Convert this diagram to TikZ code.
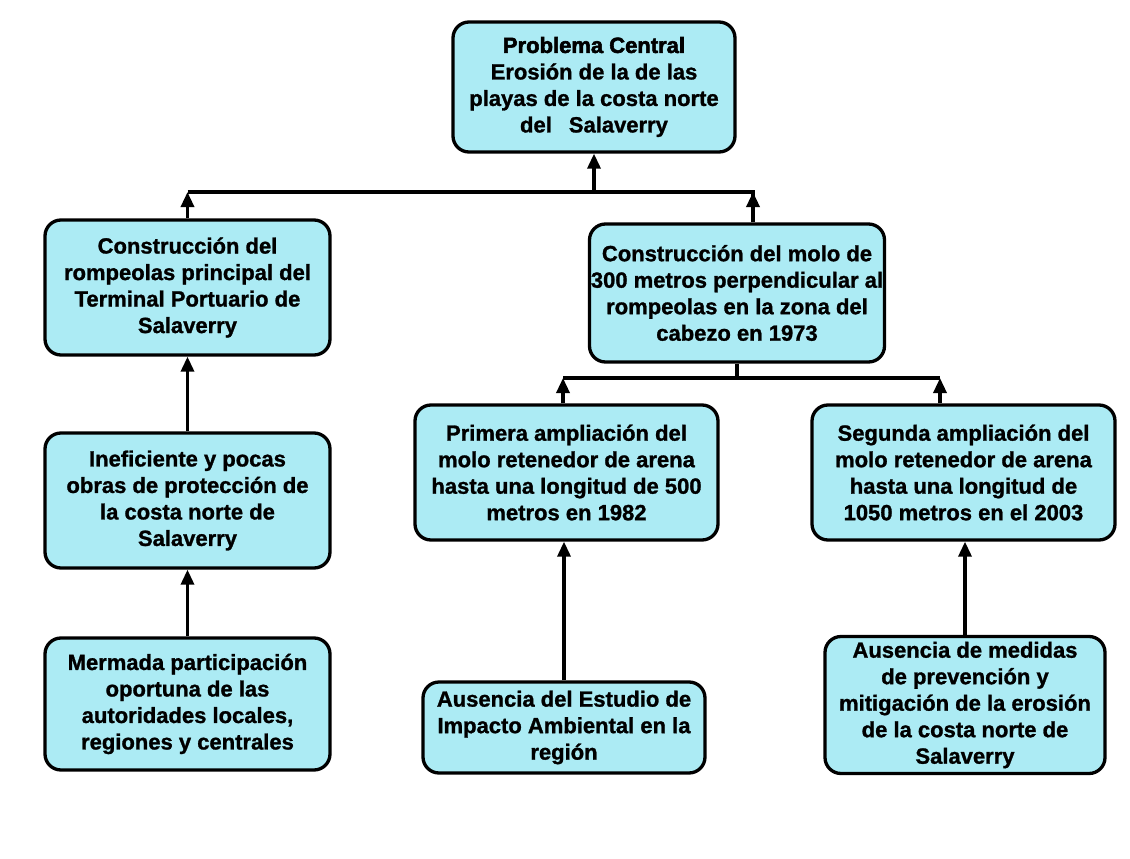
\documentclass[tikz,border=0pt]{standalone}
\usepackage{fontspec}
\setmainfont{Liberation Sans}
\newfontfamily\boxfont{Liberation Sans Bold}[FakeBold=1.2]
\newfontfamily\titlefont{Liberation Sans Bold}[FakeBold=2.5]
\usetikzlibrary{arrows.meta}
\definecolor{boxcyan}{RGB}{172,235,244}
\tikzset{
  box/.style={draw=black, line width=3.3pt, rounded corners=16pt, fill=boxcyan,
    align=center, inner sep=1pt,
    font=\boxfont\fontsize{22}{26.5}\selectfont},
  arr/.style={line width=3.3pt, -{Triangle[length=15pt,width=13pt]}},
  link/.style={line width=3.3pt}
}
\begin{document}
\begin{tikzpicture}[x=1pt,y=-1pt]
\fill[white] (0,0) rectangle (1130,859);
\useasboundingbox (0,0) rectangle (1130,859);

% top problem
\node[box, minimum width=282pt, minimum height=130pt] (pc) at (594,87)
  {{\titlefont Problema Central}\\Erosión de la de las\\playas de la costa norte\\del\hspace{17pt}Salaverry};

% first level causes
\node[box, minimum width=285pt, minimum height=135pt] (l1) at (187.5,287.5)
  {Construcción del\\rompeolas principal del\\Terminal Portuario de\\Salaverry};
\node[box, minimum width=295pt, minimum height=138pt] (r1) at (737,293)
  {Construcción del molo de\\300 metros perpendicular al\\rompeolas en la zona del\\cabezo en 1973};

% second level
\node[box, minimum width=285pt, minimum height=135pt] (l2) at (187.5,500.5)
  {Ineficiente y pocas\\obras de protección de\\la costa norte de\\Salaverry};
\node[box, minimum width=303pt, minimum height=135pt] (m2) at (566.5,472.5)
  {Primera ampliación del\\molo retenedor de arena\\hasta una longitud de 500\\metros en 1982};
\node[box, minimum width=303pt, minimum height=135pt] (r2) at (963.5,472.5)
  {Segunda ampliación del\\molo retenedor de arena\\hasta una longitud de\\1050 metros en el 2003};

% third level
\node[box, minimum width=285pt, minimum height=132pt] (l3) at (187.5,704)
  {Mermada participación\\oportuna de las\\autoridades locales,\\regiones y centrales};
\node[box, minimum width=282pt, minimum height=91pt] (m3) at (564,727.5)
  {Ausencia del Estudio de\\Impacto Ambiental en la\\región};
\node[box, minimum width=280pt, minimum height=137pt] (r3) at (965,705)
  {Ausencia de medidas\\de prevención y\\mitigación de la erosión\\de la costa norte de\\Salaverry};

% junction under the problem
\coordinate (jt) at (pc.south |- 0,192);
\coordinate (jl) at (l1.north |- jt);
\coordinate (jr) at (753,192);
\coordinate (r1top) at (r1.north -| jr);
\draw[link] (jl) -- (jr) -- ++(0,5);
\draw[arr] (jt) -- (pc.south);
\draw[arr] (l1.north) -- (jl);
\draw[arr] (r1top) -- (jr);

% junction under the breakwater extension
\coordinate (js) at (r1.south |- 0,378);
\coordinate (jsl) at (563,378);
\coordinate (jsr) at (940,378);
\draw[link] (r1.south) -- (js);
\draw[link] (jsl) -- (jsr);
\draw[arr] (m2.north -| jsl) -- (jsl);
\draw[arr] (r2.north -| jsr) -- (jsr);

% vertical links
\draw[arr] (l2.north) -- (l1.south);
\draw[arr] (l3.north) -- (l2.south);
\draw[arr] (m3.north) -- (m3.north |- m2.south);
\draw[arr] (r3.north) -- (r3.north |- r2.south);
\end{tikzpicture}
\end{document}
